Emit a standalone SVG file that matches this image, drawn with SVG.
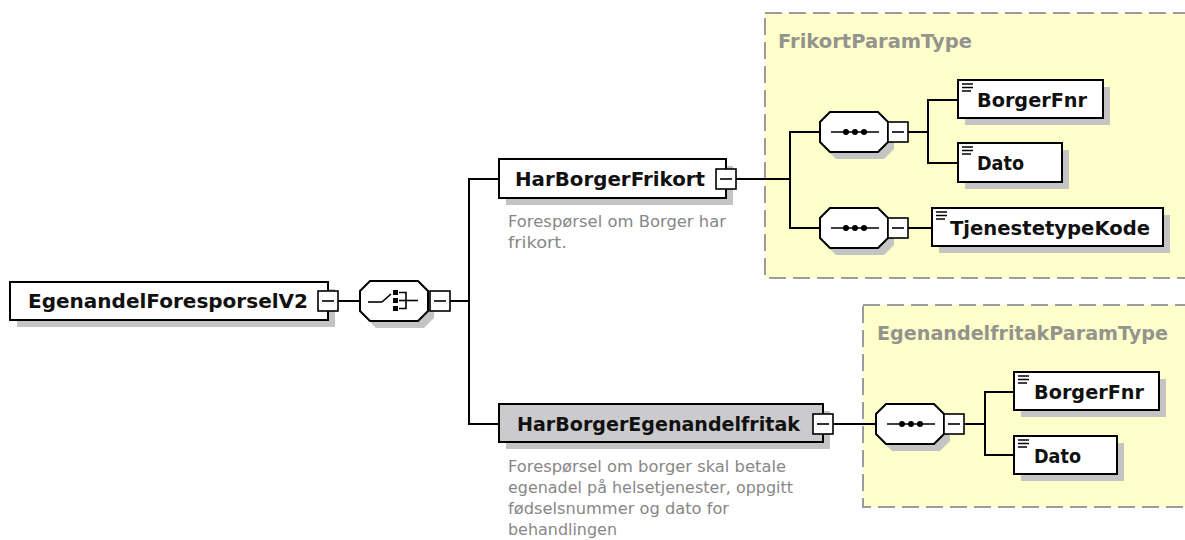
<svg xmlns="http://www.w3.org/2000/svg" width="1185" height="540" viewBox="0 0 1185 540">
<style>
.bx{fill:#fff;stroke:#000;stroke-width:2}
.bxg{fill:#cbcbcd;stroke:#000;stroke-width:2}
.sh{fill:#c4c4c4}
.btn{fill:#fff;stroke:#000;stroke-width:1.6}
.ln{stroke:#000;stroke-width:2;fill:none}
.thin{stroke:#000;stroke-width:1.6;fill:none}
.lbl{font-family:"DejaVu Sans","Liberation Sans",sans-serif;font-weight:bold;font-size:19px;fill:#111}
.desc{font-family:"DejaVu Sans","Liberation Sans",sans-serif;font-size:15.5px;fill:#878787}
.ttl{font-family:"DejaVu Sans","Liberation Sans",sans-serif;font-weight:bold;font-size:19px;fill:#94948c}
.grp{fill:#ffffcc;stroke:#9c9c9c;stroke-width:2;stroke-dasharray:17 7}
.ic{stroke:#000;stroke-width:1.5}
</style>
<defs>
<g id="minus"><rect class="btn" x="0" y="0" width="20" height="20"/><line class="thin" x1="4" y1="10" x2="16" y2="10"/></g>
<polygon id="oct" points="10,0 58,0 68,10 68,30 58,40 10,40 0,30 0,10"/>
<g id="seqicon"><line class="thin" x1="11" y1="20" x2="59" y2="20"/><circle cx="26" cy="20" r="3"/><circle cx="35" cy="20" r="3"/><circle cx="44" cy="20" r="3"/></g>
<g id="lines"><line class="ic" x1="4" y1="4" x2="15" y2="4"/><line class="ic" x1="4" y1="7.5" x2="15" y2="7.5"/><line class="ic" x1="4" y1="11" x2="13" y2="11"/></g>
</defs>

<g id="group-frikortparamtype">
<rect class="grp" x="765" y="13" width="430" height="265"/>
<text class="ttl" x="778" y="48" textLength="194" lengthAdjust="spacingAndGlyphs">FrikortParamType</text>
</g>
<g id="group-egenandelfritakparamtype">
<rect class="grp" x="863" y="305" width="335" height="202"/>
<text class="ttl" x="877" y="340" textLength="291" lengthAdjust="spacingAndGlyphs">EgenandelfritakParamType</text>
</g>

<g id="connectors">
<polyline class="ln" points="338,301 360,301"/>
<polyline class="ln" points="448,301 469,301"/>
<polyline class="ln" points="499,179 469,179 469,424 499,424"/>
<polyline class="ln" points="736,179 790,179"/>
<polyline class="ln" points="820,132 790,132 790,228 820,228"/>
<polyline class="ln" points="908,132 928,132"/>
<polyline class="ln" points="958,100 928,100 928,163 958,163"/>
<polyline class="ln" points="908,228 932,228"/>
<polyline class="ln" points="833,424 876,424"/>
<polyline class="ln" points="964,424 985,424"/>
<polyline class="ln" points="1014,392 985,392 985,455 1014,455"/>
</g>

<g id="node-egenandelforesporselv2">
<rect class="sh" x="17" y="289" width="318" height="38"/>
<rect class="bx" x="10" y="282" width="318" height="38"/>
<text class="lbl" x="28" y="308" textLength="280" lengthAdjust="spacingAndGlyphs">EgenandelForesporselV2</text>
<use href="#minus" x="318" y="291"/>
</g>

<g id="node-choice">
<use href="#oct" x="366" y="288" fill="#c4c4c4"/>
<use href="#oct" x="360" y="281" fill="#fff" stroke="#000" stroke-width="2"/>
<line class="thin" x1="368" y1="302" x2="382" y2="302"/>
<line class="thin" x1="382" y1="302" x2="391" y2="294"/>
<rect x="393" y="290" width="5" height="5"/>
<rect x="393" y="298" width="5" height="5"/>
<rect x="393" y="306" width="5" height="5"/>
<polyline class="thin" points="399,292.5 406,292.5 406,308.5 399,308.5"/>
<line class="thin" x1="399" y1="300.5" x2="418" y2="300.5"/>
<use href="#minus" x="430" y="291"/>
</g>

<g id="node-harborgerfrikort">
<rect class="sh" x="506" y="166" width="227" height="39"/>
<rect class="bx" x="499" y="159" width="227" height="39"/>
<text class="lbl" x="515" y="186" textLength="190" lengthAdjust="spacingAndGlyphs">HarBorgerFrikort</text>
<use href="#minus" x="716" y="169"/>
<text class="desc" x="508" y="227" textLength="218" lengthAdjust="spacingAndGlyphs">Forespørsel om Borger har</text>
<text class="desc" x="508" y="248" textLength="59" lengthAdjust="spacingAndGlyphs">frikort.</text>
</g>

<g id="node-sequence-1">
<use href="#oct" x="826" y="119" fill="#c4c4c4"/>
<use href="#oct" x="820" y="112" fill="#fff" stroke="#000" stroke-width="2"/>
<use href="#seqicon" x="820" y="112"/>
<use href="#minus" x="888" y="122"/>
</g>

<g id="node-borgerfnr-1">
<rect class="sh" x="965" y="87" width="145" height="38"/>
<rect class="bx" x="958" y="80" width="145" height="38"/>
<use href="#lines" x="958" y="80"/>
<text class="lbl" x="977" y="107" textLength="110" lengthAdjust="spacingAndGlyphs">BorgerFnr</text>
</g>

<g id="node-dato-1">
<rect class="sh" x="965" y="150" width="104" height="39"/>
<rect class="bx" x="958" y="143" width="104" height="39"/>
<use href="#lines" x="958" y="143"/>
<text class="lbl" x="977" y="170" textLength="47" lengthAdjust="spacingAndGlyphs">Dato</text>
</g>

<g id="node-sequence-2">
<use href="#oct" x="826" y="215" fill="#c4c4c4"/>
<use href="#oct" x="820" y="208" fill="#fff" stroke="#000" stroke-width="2"/>
<use href="#seqicon" x="820" y="208"/>
<use href="#minus" x="888" y="218"/>
</g>

<g id="node-tjenestetypekode">
<rect class="sh" x="939" y="215" width="231" height="38"/>
<rect class="bx" x="932" y="208" width="231" height="38"/>
<use href="#lines" x="932" y="208"/>
<text class="lbl" x="950" y="235" textLength="200" lengthAdjust="spacingAndGlyphs">TjenestetypeKode</text>
</g>

<g id="node-harborgeregenandelfritak">
<rect class="sh" x="506" y="411" width="324" height="38"/>
<rect class="bxg" x="499" y="404" width="324" height="38"/>
<text class="lbl" x="517" y="431" textLength="283" lengthAdjust="spacingAndGlyphs">HarBorgerEgenandelfritak</text>
<use href="#minus" x="813" y="414"/>
<text class="desc" x="508" y="472" textLength="278" lengthAdjust="spacingAndGlyphs">Forespørsel om borger skal betale</text>
<text class="desc" x="508" y="493" textLength="285" lengthAdjust="spacingAndGlyphs">egenadel på helsetjenester, oppgitt</text>
<text class="desc" x="508" y="514" textLength="221" lengthAdjust="spacingAndGlyphs">fødselsnummer og dato for</text>
<text class="desc" x="508" y="535" textLength="109" lengthAdjust="spacingAndGlyphs">behandlingen</text>
</g>

<g id="node-sequence-3">
<use href="#oct" x="882" y="411" fill="#c4c4c4"/>
<use href="#oct" x="876" y="404" fill="#fff" stroke="#000" stroke-width="2"/>
<use href="#seqicon" x="876" y="404"/>
<use href="#minus" x="944" y="414"/>
</g>

<g id="node-borgerfnr-2">
<rect class="sh" x="1021" y="379" width="145" height="38"/>
<rect class="bx" x="1014" y="372" width="145" height="38"/>
<use href="#lines" x="1014" y="372"/>
<text class="lbl" x="1034" y="399" textLength="110" lengthAdjust="spacingAndGlyphs">BorgerFnr</text>
</g>

<g id="node-dato-2">
<rect class="sh" x="1021" y="443" width="103" height="38"/>
<rect class="bx" x="1014" y="436" width="103" height="38"/>
<use href="#lines" x="1014" y="436"/>
<text class="lbl" x="1034" y="463" textLength="47" lengthAdjust="spacingAndGlyphs">Dato</text>
</g>
</svg>
